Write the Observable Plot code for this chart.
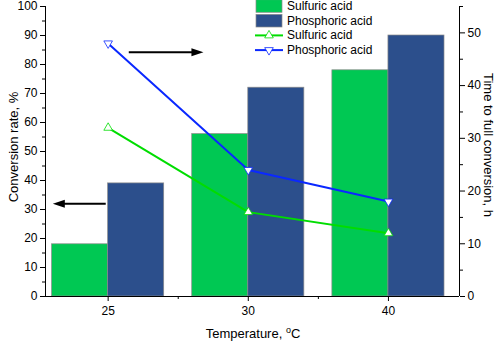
<!DOCTYPE html>
<html><head><meta charset="utf-8">
<script src="https://cdn.jsdelivr.net/npm/d3@7"></script>
<script src="https://cdn.jsdelivr.net/npm/@observablehq/plot@0.6"></script>
<style>body{margin:0;background:#fff;} svg{font-family:"Liberation Sans",Arial,sans-serif;}</style>
</head><body><div id="chart"></div>
<script>
// ---- data ----
const temperatures = ["25", "30", "40"];
const sulfuricConversion = [18, 56, 78];     // %, left axis
const phosphoricConversion = [39, 72, 90];   // %, left axis
const sulfuricTime = [32, 16, 12];           // h, right axis
const phosphoricTime = [48, 24, 18];         // h, right axis
const leftTicks = [0, 10, 20, 30, 40, 50, 60, 70, 80, 90, 100];
const leftMinor = [5, 15, 25, 35, 45, 55, 65, 75, 85, 95];
const rightTicks = [0, 10, 20, 30, 40, 50];
const rightMinor = [5, 15, 25, 35, 45, 55];
const arrowsRight = [{x1: 0.19, x2: 0.68, y: 84.2}];
const arrowsLeft = [{x1: -0.06, x2: -0.395, y: 32}];

// ---- setup ----
const RIGHT_MAX = 55;
const toLeft = v => v * 100 / RIGHT_MAX;
const X0 = -0.447, X1 = 2.507;
const BAR = 0.4;
const GREEN_BAR = "#00c853", BLUE_BAR = "#2c4f8c";
const GREEN_LINE = "#00dd00", BLUE_LINE = "#0a28ff";

const bars = temperatures.flatMap((t, i) => [
  {x1: i - BAR, x2: i, v: sulfuricConversion[i], fill: GREEN_BAR},
  {x1: i, x2: i + BAR, v: phosphoricConversion[i], fill: BLUE_BAR}
]);
const sLine = sulfuricTime.map((v, i) => ({i, v: toLeft(v)}));
const pLine = phosphoricTime.map((v, i) => ({i, v: toLeft(v)}));

const triDown = {draw(ctx, size) {
  const y = -Math.sqrt(size / (3 * Math.sqrt(3)));
  ctx.moveTo(0, -2 * y); ctx.lineTo(-Math.sqrt(3) * y, y); ctx.lineTo(Math.sqrt(3) * y, y); ctx.closePath();
}};
const headRight = {draw(ctx) { ctx.moveTo(6, 0); ctx.lineTo(-6, -4); ctx.lineTo(-6, 4); ctx.closePath(); }};
const headLeft = {draw(ctx) { ctx.moveTo(-6, 0); ctx.lineTo(6, -4); ctx.lineTo(6, 4); ctx.closePath(); }};

const plot = Plot.plot({
  width: 498, height: 344,
  marginLeft: 45, marginRight: 39, marginTop: 6, marginBottom: 48,
  style: {fontFamily: "Liberation Sans, Arial, sans-serif", fontSize: "12px", color: "black", background: "white"},
  x: {type: "linear", domain: [X0, X1]},
  y: {domain: [0, 100]},
  marks: [
    Plot.rect(bars, {x1: "x1", x2: "x2", y1: 0, y2: "v", fill: "fill", stroke: "#8a8a8a", strokeWidth: 0.7}),
    Plot.line(sLine, {x: "i", y: "v", stroke: GREEN_LINE, strokeWidth: 2}),
    Plot.line(pLine, {x: "i", y: "v", stroke: BLUE_LINE, strokeWidth: 2}),
    Plot.dot(sLine, {x: "i", y: "v", symbol: "triangle", r: 3.2, fill: "white", stroke: GREEN_LINE, strokeWidth: 0.8}),
    Plot.dot(pLine, {x: "i", y: "v", symbol: triDown, r: 3.2, fill: "white", stroke: BLUE_LINE, strokeWidth: 0.8}),
    // arrows
    Plot.link(arrowsRight, {x1: "x1", x2: "x2", y1: "y", y2: "y", stroke: "black", strokeWidth: 2, dx: -6}),
    Plot.dot(arrowsRight, {x: "x2", y: "y", symbol: headRight, fill: "black", dx: -6}),
    Plot.link(arrowsLeft, {x1: "x1", x2: "x2", y1: "y", y2: "y", stroke: "black", strokeWidth: 2, dx: 6}),
    Plot.dot(arrowsLeft, {x: "x2", y: "y", symbol: headLeft, fill: "black", dx: 6}),
    // axis lines
    Plot.ruleX([X0], {y1: 0, y2: 100, stroke: "black", strokeWidth: 1}),
    Plot.ruleX([X1], {y1: 0, y2: 100, stroke: "black", strokeWidth: 1}),
    Plot.ruleY([0], {stroke: "black", strokeWidth: 1}),
    // left axis
    Plot.axisY(leftTicks, {anchor: "left", tickSize: 5, tickPadding: 3, fontSize: 12, label: null, tickFormat: d => d}),
    Plot.axisY(leftMinor, {anchor: "left", tickSize: 3, label: null, tickFormat: () => ""}),
    // right axis
    Plot.axisY(rightTicks.map(toLeft), {anchor: "right", tickSize: 5, tickPadding: 3, fontSize: 12, label: null, tickFormat: d => Math.round(d * RIGHT_MAX / 100)}),
    Plot.axisY(rightMinor.map(toLeft), {anchor: "right", tickSize: 3, label: null, tickFormat: () => ""}),
    // x axis
    Plot.axisX([0, 1, 2], {anchor: "bottom", tickSize: 5, tickPadding: 5, fontSize: 12, label: null, tickFormat: i => temperatures[i]}),
    Plot.axisX([0.5, 1.5], {anchor: "bottom", tickSize: 3, label: null, tickFormat: () => ""})
  ]
});

const svg = d3.select(plot);
svg.append("text").attr("transform", "translate(13,147) rotate(-90)")
  .attr("text-anchor", "middle").attr("dominant-baseline", "central")
  .attr("font-size", 13).attr("fill", "black").text("Conversion rate, %");
svg.append("text").attr("transform", "translate(488,145) rotate(90)")
  .attr("text-anchor", "middle").attr("dominant-baseline", "central")
  .attr("font-size", 13).attr("fill", "black").text("Time to full conversion, h");
const xt = svg.append("text").attr("x", 253).attr("y", 338).attr("text-anchor", "middle")
  .attr("font-size", 13).attr("fill", "black");
xt.append("tspan").text("Temperature, ");
xt.append("tspan").attr("font-size", 9).attr("dy", -5).text("o");
xt.append("tspan").attr("dy", 5).text("C");

// legend
const lg = svg.append("g").attr("font-size", 12).attr("fill", "black").attr("text-anchor", "start");
const items = [
  {type: "bar", color: GREEN_BAR, label: "Sulfuric acid"},
  {type: "bar", color: BLUE_BAR, label: "Phosphoric acid"},
  {type: "line", color: GREEN_LINE, label: "Sulfuric acid", sym: d3.symbolTriangle},
  {type: "line", color: BLUE_LINE, label: "Phosphoric acid", sym: triDown}
];
items.forEach((it, k) => {
  const cy = 6 + k * 14.7;
  if (it.type === "bar") {
    lg.append("rect").attr("x", 256).attr("y", cy - 6.3).attr("width", 26).attr("height", 12.6)
      .attr("fill", it.color).attr("stroke", "#8a8a8a").attr("stroke-width", 0.7);
  } else {
    lg.append("line").attr("x1", 255).attr("x2", 283).attr("y1", cy).attr("y2", cy)
      .attr("stroke", it.color).attr("stroke-width", 2);
    lg.append("path").attr("d", d3.symbol(it.sym, 32)()).attr("transform", `translate(269,${cy})`)
      .attr("fill", "white").attr("stroke", it.color).attr("stroke-width", 0.8);
  }
  lg.append("text").attr("x", 287).attr("y", cy).attr("text-anchor", "start")
    .attr("dominant-baseline", "central").text(it.label);
});

document.getElementById("chart").appendChild(plot);
</script>
</body></html>
